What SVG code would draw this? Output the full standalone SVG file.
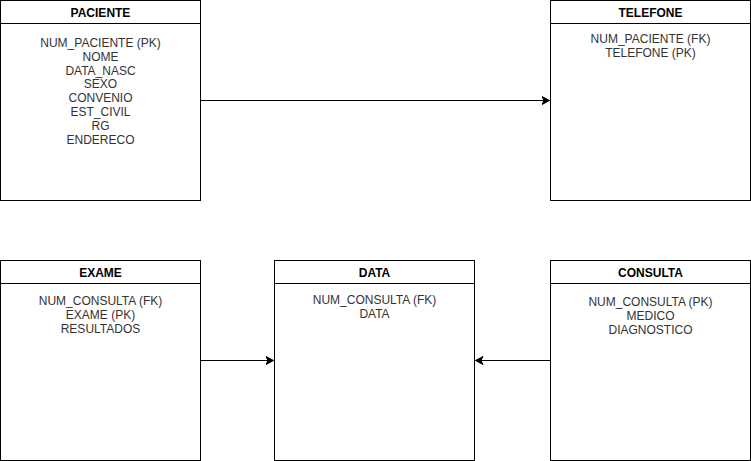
<svg xmlns="http://www.w3.org/2000/svg" width="751" height="461" viewBox="0 0 751 461">
<defs>
<style>
.box{fill:#fff;stroke:#000;stroke-width:1}
.hd{font-family:"Liberation Sans",Arial,sans-serif;font-size:12px;font-weight:bold;fill:#000;text-anchor:middle}
.tx{font-family:"Liberation Sans",Arial,sans-serif;font-size:12px;fill:#333;text-anchor:middle}
.edge{fill:none;stroke:#000;stroke-width:1}
</style>
<marker id="arr" markerUnits="userSpaceOnUse" markerWidth="10" markerHeight="10" refX="8" refY="5" orient="auto" viewBox="0 0 10 10">
<path d="M0.5,1 L8,5 L0.5,9 L2.5,5 Z" fill="#000" stroke="#000" stroke-width="1"/>
</marker>
</defs>
<rect width="751" height="461" fill="#fff"/>
<g id="connectors">
<path class="edge" d="M200.5,100.5 L549.5,100.5" marker-end="url(#arr)"/>
<path class="edge" d="M200.5,360.5 L273.5,360.5" marker-end="url(#arr)"/>
<path class="edge" d="M550.5,360.5 L475.5,360.5" marker-end="url(#arr)"/>
</g>
<g id="paciente">
<rect class="box" x="0.5" y="0.5" width="200" height="200"/>
<line class="edge" x1="0.5" y1="23.5" x2="200.5" y2="23.5"/>
<text class="hd" x="100.5" y="17">PACIENTE</text>
<text class="tx" x="100.5" y="47">NUM_PACIENTE (PK)</text>
<text class="tx" x="100.5" y="61">NOME</text>
<text class="tx" x="100.5" y="75">DATA_NASC</text>
<text class="tx" x="100.5" y="88">SEXO</text>
<text class="tx" x="100.5" y="102">CONVENIO</text>
<text class="tx" x="100.5" y="116">EST_CIVIL</text>
<text class="tx" x="100.5" y="130">RG</text>
<text class="tx" x="100.5" y="144">ENDERECO</text>
</g>
<g id="telefone">
<rect class="box" x="550.5" y="0.5" width="200" height="200"/>
<line class="edge" x1="550.5" y1="23.5" x2="750.5" y2="23.5"/>
<text class="hd" x="650.5" y="17">TELEFONE</text>
<text class="tx" x="650.5" y="43">NUM_PACIENTE (FK)</text>
<text class="tx" x="650.5" y="57">TELEFONE (PK)</text>
</g>
<g id="exame">
<rect class="box" x="0.5" y="260.5" width="200" height="200"/>
<line class="edge" x1="0.5" y1="283.5" x2="200.5" y2="283.5"/>
<text class="hd" x="100.5" y="277">EXAME</text>
<text class="tx" x="100.5" y="305">NUM_CONSULTA (FK)</text>
<text class="tx" x="100.5" y="319">EXAME (PK)</text>
<text class="tx" x="100.5" y="333">RESULTADOS</text>
</g>
<g id="data">
<rect class="box" x="274.5" y="260.5" width="200" height="200"/>
<line class="edge" x1="274.5" y1="283.5" x2="474.5" y2="283.5"/>
<text class="hd" x="374.5" y="277">DATA</text>
<text class="tx" x="374.5" y="304">NUM_CONSULTA (FK)</text>
<text class="tx" x="374.5" y="318">DATA</text>
</g>
<g id="consulta">
<rect class="box" x="550.5" y="260.5" width="200" height="200"/>
<line class="edge" x1="550.5" y1="283.5" x2="750.5" y2="283.5"/>
<text class="hd" x="650.5" y="277">CONSULTA</text>
<text class="tx" x="650.5" y="306">NUM_CONSULTA (PK)</text>
<text class="tx" x="650.5" y="320">MEDICO</text>
<text class="tx" x="650.5" y="334">DIAGNOSTICO</text>
</g>
</svg>
